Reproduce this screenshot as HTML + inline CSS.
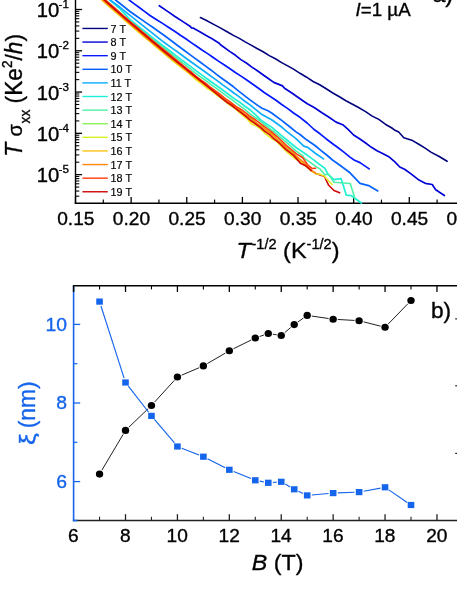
<!DOCTYPE html>
<html>
<head>
<meta charset="utf-8">
<title>Chart</title>
<style>
html, body { margin: 0; padding: 0; background: #ffffff; }
body { width: 457px; height: 591px; overflow: hidden; font-family: 'Liberation Sans', sans-serif; }
svg { display: block; }
svg text { font-family: "Liberation Sans", sans-serif; stroke-width: 0.35px; stroke-linejoin: round; }
</style>
</head>
<body>
<svg width="457" height="591" viewBox="0 0 457 591">
<rect x="0" y="0" width="457" height="591" fill="#ffffff"/>
<g id="top" opacity="0.999">
<line x1="75.50" y1="-2.00" x2="75.50" y2="203.85" stroke="#000" stroke-width="1.4" />
<line x1="74.80" y1="203.20" x2="459.00" y2="203.20" stroke="#000" stroke-width="1.5" />
<line x1="75.50" y1="203.20" x2="75.50" y2="196.90" stroke="#000" stroke-width="1.3" />
<line x1="103.31" y1="203.20" x2="103.31" y2="199.60" stroke="#000" stroke-width="1.2" />
<line x1="131.13" y1="203.20" x2="131.13" y2="196.90" stroke="#000" stroke-width="1.3" />
<line x1="158.94" y1="203.20" x2="158.94" y2="199.60" stroke="#000" stroke-width="1.2" />
<line x1="186.76" y1="203.20" x2="186.76" y2="196.90" stroke="#000" stroke-width="1.3" />
<line x1="214.58" y1="203.20" x2="214.58" y2="199.60" stroke="#000" stroke-width="1.2" />
<line x1="242.39" y1="203.20" x2="242.39" y2="196.90" stroke="#000" stroke-width="1.3" />
<line x1="270.21" y1="203.20" x2="270.21" y2="199.60" stroke="#000" stroke-width="1.2" />
<line x1="298.02" y1="203.20" x2="298.02" y2="196.90" stroke="#000" stroke-width="1.3" />
<line x1="325.84" y1="203.20" x2="325.84" y2="199.60" stroke="#000" stroke-width="1.2" />
<line x1="353.65" y1="203.20" x2="353.65" y2="196.90" stroke="#000" stroke-width="1.3" />
<line x1="381.47" y1="203.20" x2="381.47" y2="199.60" stroke="#000" stroke-width="1.2" />
<line x1="409.28" y1="203.20" x2="409.28" y2="196.90" stroke="#000" stroke-width="1.3" />
<line x1="437.10" y1="203.20" x2="437.10" y2="199.60" stroke="#000" stroke-width="1.2" />
<line x1="75.50" y1="9.50" x2="82.10" y2="9.50" stroke="#000" stroke-width="1.3" />
<line x1="75.50" y1="-2.93" x2="79.30" y2="-2.93" stroke="#000" stroke-width="1.1" />
<line x1="75.50" y1="50.78" x2="82.10" y2="50.78" stroke="#000" stroke-width="1.3" />
<line x1="75.50" y1="38.35" x2="79.30" y2="38.35" stroke="#000" stroke-width="1.1" />
<line x1="75.50" y1="31.08" x2="79.30" y2="31.08" stroke="#000" stroke-width="1.1" />
<line x1="75.50" y1="25.93" x2="79.30" y2="25.93" stroke="#000" stroke-width="1.1" />
<line x1="75.50" y1="21.93" x2="79.30" y2="21.93" stroke="#000" stroke-width="1.1" />
<line x1="75.50" y1="18.66" x2="79.30" y2="18.66" stroke="#000" stroke-width="1.1" />
<line x1="75.50" y1="15.89" x2="79.30" y2="15.89" stroke="#000" stroke-width="1.1" />
<line x1="75.50" y1="13.50" x2="79.30" y2="13.50" stroke="#000" stroke-width="1.1" />
<line x1="75.50" y1="11.39" x2="79.30" y2="11.39" stroke="#000" stroke-width="1.1" />
<line x1="75.50" y1="92.06" x2="82.10" y2="92.06" stroke="#000" stroke-width="1.3" />
<line x1="75.50" y1="79.63" x2="79.30" y2="79.63" stroke="#000" stroke-width="1.1" />
<line x1="75.50" y1="72.36" x2="79.30" y2="72.36" stroke="#000" stroke-width="1.1" />
<line x1="75.50" y1="67.21" x2="79.30" y2="67.21" stroke="#000" stroke-width="1.1" />
<line x1="75.50" y1="63.21" x2="79.30" y2="63.21" stroke="#000" stroke-width="1.1" />
<line x1="75.50" y1="59.94" x2="79.30" y2="59.94" stroke="#000" stroke-width="1.1" />
<line x1="75.50" y1="57.17" x2="79.30" y2="57.17" stroke="#000" stroke-width="1.1" />
<line x1="75.50" y1="54.78" x2="79.30" y2="54.78" stroke="#000" stroke-width="1.1" />
<line x1="75.50" y1="52.67" x2="79.30" y2="52.67" stroke="#000" stroke-width="1.1" />
<line x1="75.50" y1="133.34" x2="82.10" y2="133.34" stroke="#000" stroke-width="1.3" />
<line x1="75.50" y1="120.91" x2="79.30" y2="120.91" stroke="#000" stroke-width="1.1" />
<line x1="75.50" y1="113.64" x2="79.30" y2="113.64" stroke="#000" stroke-width="1.1" />
<line x1="75.50" y1="108.49" x2="79.30" y2="108.49" stroke="#000" stroke-width="1.1" />
<line x1="75.50" y1="104.49" x2="79.30" y2="104.49" stroke="#000" stroke-width="1.1" />
<line x1="75.50" y1="101.22" x2="79.30" y2="101.22" stroke="#000" stroke-width="1.1" />
<line x1="75.50" y1="98.45" x2="79.30" y2="98.45" stroke="#000" stroke-width="1.1" />
<line x1="75.50" y1="96.06" x2="79.30" y2="96.06" stroke="#000" stroke-width="1.1" />
<line x1="75.50" y1="93.95" x2="79.30" y2="93.95" stroke="#000" stroke-width="1.1" />
<line x1="75.50" y1="174.62" x2="82.10" y2="174.62" stroke="#000" stroke-width="1.3" />
<line x1="75.50" y1="162.19" x2="79.30" y2="162.19" stroke="#000" stroke-width="1.1" />
<line x1="75.50" y1="154.92" x2="79.30" y2="154.92" stroke="#000" stroke-width="1.1" />
<line x1="75.50" y1="149.77" x2="79.30" y2="149.77" stroke="#000" stroke-width="1.1" />
<line x1="75.50" y1="145.77" x2="79.30" y2="145.77" stroke="#000" stroke-width="1.1" />
<line x1="75.50" y1="142.50" x2="79.30" y2="142.50" stroke="#000" stroke-width="1.1" />
<line x1="75.50" y1="139.73" x2="79.30" y2="139.73" stroke="#000" stroke-width="1.1" />
<line x1="75.50" y1="137.34" x2="79.30" y2="137.34" stroke="#000" stroke-width="1.1" />
<line x1="75.50" y1="135.23" x2="79.30" y2="135.23" stroke="#000" stroke-width="1.1" />
<line x1="75.50" y1="196.20" x2="79.30" y2="196.20" stroke="#000" stroke-width="1.1" />
<line x1="75.50" y1="191.05" x2="79.30" y2="191.05" stroke="#000" stroke-width="1.1" />
<line x1="75.50" y1="187.05" x2="79.30" y2="187.05" stroke="#000" stroke-width="1.1" />
<line x1="75.50" y1="183.78" x2="79.30" y2="183.78" stroke="#000" stroke-width="1.1" />
<line x1="75.50" y1="181.01" x2="79.30" y2="181.01" stroke="#000" stroke-width="1.1" />
<line x1="75.50" y1="178.62" x2="79.30" y2="178.62" stroke="#000" stroke-width="1.1" />
<line x1="75.50" y1="176.51" x2="79.30" y2="176.51" stroke="#000" stroke-width="1.1" />
<g id="curves">
<polyline points="200.4,17.5 206.0,20.2 213.2,24.1 220.3,27.9 227.5,32.0 233.4,35.4 239.3,38.4 245.2,41.9 251.1,45.1 257.0,48.5 263.1,51.7 269.3,55.6 275.4,58.8 281.6,62.6 287.7,65.9 293.9,69.4 300.0,73.3 306.6,77.2 313.1,81.5 319.7,84.8 326.2,88.8 332.8,93.0 339.4,96.8 345.9,100.8 352.5,104.2 359.0,107.8 365.6,111.6 372.2,116.1 378.8,119.4 385.3,124.2 391.9,128.0 395.0,130.3 398.7,132.0 403.8,137.7 412.6,140.6 418.8,144.3 425.1,148.1 431.3,152.4 439.2,156.5 447.1,161.3" fill="none" stroke="#000080" stroke-width="1.6" stroke-linejoin="round" stroke-linecap="round" />
<polyline points="159.3,5.7 167.2,11.1 175.0,16.5 182.5,21.4 190.0,26.2 191.5,27.8 193.5,28.2 199.8,31.8 206.2,35.6 212.5,39.1 218.8,42.9 220.5,44.8 230.0,51.6 235.5,55.3 240.9,59.6 246.4,63.0 251.9,67.1 257.4,70.8 262.9,74.7 268.3,78.5 273.8,82.4 282.5,85.9 284.5,88.2 292.2,93.2 300.0,98.7 307.3,103.7 314.6,107.7 321.9,112.7 329.0,117.2 336.1,122.1 342.7,124.7 348.1,129.4 353.6,135.0 359.5,138.7 365.3,142.8 371.1,147.1 377.0,150.7 383.1,153.8 389.3,157.1 394.6,161.7 399.8,167.0 405.0,169.5 412.0,174.6 419.0,180.1 425.2,183.3 432.2,184.5 435.7,189.8 444.4,195.5" fill="none" stroke="#0202d6" stroke-width="1.7" stroke-linejoin="round" stroke-linecap="round" />
<polyline points="129.1,0.0 134.3,3.9 139.6,7.7 144.8,11.6 150.0,15.5 156.2,19.5 162.5,23.4 168.8,27.5 175.0,31.5 180.4,35.3 185.8,38.8 191.2,42.6 196.6,46.3 202.0,50.0 207.6,53.6 213.2,57.5 218.8,61.4 224.4,65.0 230.0,68.8 235.7,72.8 241.4,76.4 247.1,80.3 252.8,84.2 258.5,88.3 264.2,92.5 269.9,96.2 275.6,100.0 281.7,104.5 287.8,108.6 293.9,113.2 300.0,117.3 307.1,123.0 314.1,129.5 320.0,133.8 326.0,138.7 331.9,143.2 337.8,147.5 343.9,152.2 350.0,157.1 354.1,160.0 360.0,162.6 369.2,168.9" fill="none" stroke="#0418ff" stroke-width="1.7" stroke-linejoin="round" stroke-linecap="round" />
<polyline points="115.5,0.0 120.0,3.5 130.0,11.5 135.7,15.5 141.3,19.4 147.0,23.4 152.7,27.3 158.3,31.3 164.0,35.2 170.7,40.3 177.3,45.3 184.0,50.3 189.3,54.1 194.7,58.1 200.0,62.0 205.6,66.1 211.2,70.2 216.8,74.6 222.4,78.7 228.0,82.7 233.5,86.8 239.0,91.4 244.5,95.6 250.0,99.9 258.0,105.6 262.0,108.2 268.0,110.8 272.0,113.2 282.0,120.6 290.0,127.0 296.0,131.9 300.0,134.5 306.6,139.8 315.0,145.5 320.8,150.3 326.7,155.0 332.5,160.0 341.3,166.3 350.0,172.8 355.0,178.2 360.0,183.4 368.6,185.6 377.8,190.9" fill="none" stroke="#0462ff" stroke-width="1.7" stroke-linejoin="round" stroke-linecap="round" />
<polyline points="109.7,0.0 114.8,4.4 120.0,8.8 125.0,14.2 130.0,19.5 135.3,23.8 140.7,28.1 146.0,32.5 152.0,37.1 158.0,41.8 164.0,46.5 170.0,51.0 176.0,55.6 182.0,60.1 188.0,64.6 194.0,69.1 200.0,73.6 205.6,77.7 211.2,81.7 216.8,85.8 222.4,89.8 228.0,94.0 233.5,98.1 239.0,101.7 244.5,106.0 250.0,109.8 256.0,115.2 262.0,121.0 272.0,127.4 276.0,130.8 281.0,135.1 286.0,139.2 296.0,147.5 303.1,152.2 308.5,156.1 314.0,160.1 319.4,164.4 324.8,168.2 328.1,174.4 334.0,179.6 341.1,178.7 343.7,186.7 346.3,195.2 351.5,195.7 361.4,203.0" fill="none" stroke="#1ef0d6" stroke-width="1.7" stroke-linejoin="round" stroke-linecap="round" />
<polyline points="110.2,0.0 120.0,7.3 130.0,15.4 135.7,19.9 141.3,24.4 147.0,28.9 152.7,33.3 158.3,37.8 164.0,42.3 170.0,46.6 176.0,50.9 182.0,55.3 188.0,59.7 194.0,64.0 200.0,68.3 205.6,72.3 211.2,76.4 216.8,80.4 222.4,84.6 228.0,88.6 233.5,92.8 239.0,96.6 244.5,101.0 250.0,104.9 258.0,111.4 262.0,114.6 267.0,117.2 272.0,120.0 282.0,127.3 286.0,130.8 296.0,138.6 303.8,146.1 307.8,147.4 315.6,153.5 323.5,158.9" fill="none" stroke="#0cacff" stroke-width="1.7" stroke-linejoin="round" stroke-linecap="round" />
<polyline points="98.0,-6.8 103.6,-1.6 109.6,3.6 113.8,7.3 118.0,11.0 121.9,14.3 126.0,17.9 130.8,22.1 136.1,26.3 140.5,29.8 146.6,34.7 152.5,39.4 158.2,43.9 164.1,48.3 170.1,53.1 175.9,57.6 180.7,61.3 185.5,65.1 189.3,68.2 195.2,72.9 200.8,77.1 206.6,81.2 212.1,85.3 216.1,88.2 221.2,91.9 226.1,95.6 230.8,98.9 235.7,102.7 239.9,105.8 244.5,109.2 250.0,113.9 254.7,117.2 261.0,121.5 264.9,125.0 270.9,129.4 274.9,132.5 281.0,137.9 286.0,141.9 295.5,150.6 302.9,155.8 303.8,157.9 311.3,163.2 316.3,166.9 320.0,168.9 324.8,174.8 328.6,174.3 334.0,182.2 350.2,183.5 354.4,196.8 354.6,198.6" fill="none" stroke="#4cf2a6" stroke-width="1.6" stroke-linejoin="round" stroke-linecap="round" />
<polyline points="98.0,-6.2 103.6,-0.8 109.9,4.7 114.2,8.5 119.7,13.2 125.2,18.1 131.1,23.1 135.2,26.8 139.8,30.5 145.7,35.6 149.7,38.9 155.2,43.4 160.6,48.0 165.1,51.7 169.2,55.4 173.9,59.2 178.8,62.9 184.9,67.9 188.7,70.9 194.1,75.1 197.9,78.6 202.9,82.1 207.8,85.9 213.7,90.7 217.5,93.9 221.3,96.4 224.9,99.6 228.7,102.3 232.5,105.1 238.0,109.4 242.9,113.0 247.7,116.7 251.5,119.3 255.7,122.8 262.0,126.3 265.9,130.0 271.2,133.0 276.8,139.4 281.5,142.9 286.0,147.0 291.0,151.0 296.0,154.5" fill="none" stroke="#8ef05c" stroke-width="1.5" stroke-linejoin="round" stroke-linecap="round" />
<polyline points="311.3,170.6 316.0,173.5 324.4,176.5 328.7,185.3 334.0,190.5 339.7,192.8" fill="none" stroke="#d00606" stroke-width="1.6" stroke-linejoin="round" stroke-linecap="round" />
<polyline points="98.0,-3.5 101.5,-0.2 105.5,3.5 109.1,6.6 114.6,11.5 121.1,17.0 125.6,21.1 130.0,24.8 134.1,28.5 140.3,33.7 144.4,37.2 149.5,41.2 154.3,45.4 158.1,48.6 162.7,52.5 168.9,57.7 173.7,61.7 180.1,66.7 186.5,71.5 190.4,74.8 196.7,80.4 202.4,84.4 207.4,88.7 211.2,90.7 214.8,93.7 220.8,98.2 225.5,101.6 229.6,105.2 234.1,107.8 238.6,112.0 243.0,115.6 247.5,119.2 251.2,123.9 257.1,126.4 261.0,129.5 265.6,133.9 271.9,138.8 276.3,141.2 287.6,152.6 295.0,158.6 302.5,163.4 311.3,170.9 315.6,173.7 320.0,174.3 324.1,176.1 332.0,184.5" fill="none" stroke="#e6ea1e" stroke-width="1.5" stroke-linejoin="round" stroke-linecap="round" />
<polyline points="98.0,-4.0 102.9,0.6 107.8,5.0 113.3,9.7 118.7,14.4 123.1,18.4 127.0,21.9 131.4,25.8 137.8,31.0 144.0,36.4 149.5,40.8 154.3,45.1 158.7,48.7 163.2,52.4 169.0,57.1 173.8,61.0 180.1,65.9 183.8,69.1 189.8,73.8 194.8,77.4 198.8,80.6 203.7,84.1 209.3,88.7 212.8,91.4 217.8,95.1 222.7,98.6 227.6,102.0 232.6,105.4 236.5,108.8 241.2,112.7 246.4,117.7 251.1,121.6 256.1,124.7 261.9,128.4 267.9,132.0 271.7,134.8 275.6,138.2 280.9,144.4 286.0,148.4 290.0,152.3 298.1,158.6 302.5,162.4 311.3,170.6" fill="none" stroke="#ffc414" stroke-width="1.5" stroke-linejoin="round" stroke-linecap="round" />
<polyline points="98.0,-4.7 103.9,0.9 108.3,4.8 113.9,9.7 117.7,12.9 122.4,17.1 126.6,20.8 131.1,24.7 137.4,30.0 143.9,35.4 149.9,40.6 153.8,43.9 159.0,48.3 163.1,51.7 169.3,56.6 173.7,59.9 180.0,65.1 186.5,70.1 192.4,75.2 198.7,79.6 203.3,83.1 209.1,87.6 215.5,92.4 221.3,97.1 225.5,100.0 231.9,104.7 236.4,107.8 242.3,112.0 247.6,116.3 252.8,119.6 258.3,124.6 262.7,127.1 268.9,132.0 273.3,135.1 279.0,141.0 286.0,147.6 290.0,151.2 298.1,157.5 302.5,161.4 311.5,170.4 315.6,173.4" fill="none" stroke="#ff8608" stroke-width="1.5" stroke-linejoin="round" stroke-linecap="round" />
<polyline points="98.0,-7.0 103.5,-1.9 107.6,1.8 112.6,6.1 117.4,10.4 121.7,14.2 126.2,18.1 132.0,23.2 138.4,28.4 142.6,32.0 147.8,36.3 153.3,41.1 159.3,46.0 163.7,49.6 170.2,54.9 175.8,59.6 181.1,63.9 187.1,68.8 191.5,72.2 196.4,76.5 200.4,79.6 205.8,83.4 209.9,86.8 214.7,90.3 219.6,93.9 225.3,98.5 230.4,102.1 236.3,106.6 241.4,109.7 245.4,112.5 249.1,115.6 254.2,118.9 260.5,123.7 266.4,128.0 271.9,132.1 278.4,137.7 286.0,145.1 296.4,153.9 302.5,157.5 307.8,165.0 312.1,168.4 315.6,168.2" fill="none" stroke="#ff3a08" stroke-width="1.5" stroke-linejoin="round" stroke-linecap="round" />
<polyline points="98.0,-5.8 103.9,-0.3 108.9,4.1 115.4,9.8 119.3,13.2 123.6,17.0 127.9,20.7 132.4,24.6 137.6,28.9 141.3,32.1 146.4,36.4 152.1,41.3 156.9,45.1 162.6,50.1 167.2,53.9 171.6,57.5 177.6,62.4 184.0,67.3 189.1,71.7 195.0,76.3 199.0,79.6 202.8,82.7 206.3,85.5 211.2,89.3 216.2,93.5 220.8,97.4 226.9,102.4 231.1,105.0 235.7,108.6 241.4,112.9 245.3,115.8 250.0,119.8 254.8,123.3 260.4,127.4 264.5,131.2 270.3,135.2 274.0,138.9 279.4,143.2 286.0,149.6 293.8,155.6 300.8,163.6 305.1,165.4 311.3,170.6" fill="none" stroke="#d00606" stroke-width="1.6" stroke-linejoin="round" stroke-linecap="round" />
</g>
<text transform="translate(36.8,17.10) scale(1.04,1)" font-size="19.5" fill="#000" stroke="#000">10<tspan font-size="11.2" dy="-8.9" dx="-0.7">-1</tspan></text>
<text transform="translate(36.8,58.38) scale(1.04,1)" font-size="19.5" fill="#000" stroke="#000">10<tspan font-size="11.2" dy="-8.9" dx="-0.7">-2</tspan></text>
<text transform="translate(36.8,99.66) scale(1.04,1)" font-size="19.5" fill="#000" stroke="#000">10<tspan font-size="11.2" dy="-8.9" dx="-0.7">-3</tspan></text>
<text transform="translate(36.8,140.94) scale(1.04,1)" font-size="19.5" fill="#000" stroke="#000">10<tspan font-size="11.2" dy="-8.9" dx="-0.7">-4</tspan></text>
<text transform="translate(36.8,182.22) scale(1.04,1)" font-size="19.5" fill="#000" stroke="#000">10<tspan font-size="11.2" dy="-8.9" dx="-0.7">-5</tspan></text>
<text transform="translate(75.80,224.80) scale(1.04,1)" font-size="18.4" fill="#000" stroke="#000" text-anchor="middle"  style="">0.15</text>
<text transform="translate(131.43,224.80) scale(1.04,1)" font-size="18.4" fill="#000" stroke="#000" text-anchor="middle"  style="">0.20</text>
<text transform="translate(187.06,224.80) scale(1.04,1)" font-size="18.4" fill="#000" stroke="#000" text-anchor="middle"  style="">0.25</text>
<text transform="translate(242.69,224.80) scale(1.04,1)" font-size="18.4" fill="#000" stroke="#000" text-anchor="middle"  style="">0.30</text>
<text transform="translate(298.32,224.80) scale(1.04,1)" font-size="18.4" fill="#000" stroke="#000" text-anchor="middle"  style="">0.35</text>
<text transform="translate(353.95,224.80) scale(1.04,1)" font-size="18.4" fill="#000" stroke="#000" text-anchor="middle"  style="">0.40</text>
<text transform="translate(409.58,224.80) scale(1.04,1)" font-size="18.4" fill="#000" stroke="#000" text-anchor="middle"  style="">0.45</text>
<text transform="translate(465.21,224.80) scale(1.04,1)" font-size="18.4" fill="#000" stroke="#000" text-anchor="middle"  style="">0.50</text>
<line x1="82.40" y1="28.45" x2="107.80" y2="28.45" stroke="#000080" stroke-width="1.4" />
<text transform="translate(110.60,32.60) scale(1.02,1)" font-size="10.6" fill="#000" stroke="#000" text-anchor="start"  style="stroke-width:0.18px">7 T</text>
<line x1="82.40" y1="42.06" x2="107.80" y2="42.06" stroke="#0202d6" stroke-width="1.4" />
<text transform="translate(110.60,46.21) scale(1.02,1)" font-size="10.6" fill="#000" stroke="#000" text-anchor="start"  style="stroke-width:0.18px">8 T</text>
<line x1="82.40" y1="55.67" x2="107.80" y2="55.67" stroke="#0418ff" stroke-width="1.4" />
<text transform="translate(110.60,59.82) scale(1.02,1)" font-size="10.6" fill="#000" stroke="#000" text-anchor="start"  style="stroke-width:0.18px">9 T</text>
<line x1="82.40" y1="69.28" x2="107.80" y2="69.28" stroke="#0462ff" stroke-width="1.4" />
<text transform="translate(110.60,73.43) scale(1.02,1)" font-size="10.6" fill="#000" stroke="#000" text-anchor="start"  style="stroke-width:0.18px">10 T</text>
<line x1="82.40" y1="82.89" x2="107.80" y2="82.89" stroke="#0cacff" stroke-width="1.4" />
<text transform="translate(110.60,87.04) scale(1.02,1)" font-size="10.6" fill="#000" stroke="#000" text-anchor="start"  style="stroke-width:0.18px">11 T</text>
<line x1="82.40" y1="96.50" x2="107.80" y2="96.50" stroke="#1ef0d6" stroke-width="1.4" />
<text transform="translate(110.60,100.65) scale(1.02,1)" font-size="10.6" fill="#000" stroke="#000" text-anchor="start"  style="stroke-width:0.18px">12 T</text>
<line x1="82.40" y1="110.11" x2="107.80" y2="110.11" stroke="#4cf2a6" stroke-width="1.4" />
<text transform="translate(110.60,114.26) scale(1.02,1)" font-size="10.6" fill="#000" stroke="#000" text-anchor="start"  style="stroke-width:0.18px">13 T</text>
<line x1="82.40" y1="123.72" x2="107.80" y2="123.72" stroke="#8ef05c" stroke-width="1.4" />
<text transform="translate(110.60,127.87) scale(1.02,1)" font-size="10.6" fill="#000" stroke="#000" text-anchor="start"  style="stroke-width:0.18px">14 T</text>
<line x1="82.40" y1="137.33" x2="107.80" y2="137.33" stroke="#d6f01e" stroke-width="1.4" />
<text transform="translate(110.60,141.48) scale(1.02,1)" font-size="10.6" fill="#000" stroke="#000" text-anchor="start"  style="stroke-width:0.18px">15 T</text>
<line x1="82.40" y1="150.94" x2="107.80" y2="150.94" stroke="#ffc414" stroke-width="1.4" />
<text transform="translate(110.60,155.09) scale(1.02,1)" font-size="10.6" fill="#000" stroke="#000" text-anchor="start"  style="stroke-width:0.18px">16 T</text>
<line x1="82.40" y1="164.55" x2="107.80" y2="164.55" stroke="#ff8608" stroke-width="1.4" />
<text transform="translate(110.60,168.70) scale(1.02,1)" font-size="10.6" fill="#000" stroke="#000" text-anchor="start"  style="stroke-width:0.18px">17 T</text>
<line x1="82.40" y1="178.16" x2="107.80" y2="178.16" stroke="#ff3a08" stroke-width="1.4" />
<text transform="translate(110.60,182.31) scale(1.02,1)" font-size="10.6" fill="#000" stroke="#000" text-anchor="start"  style="stroke-width:0.18px">18 T</text>
<line x1="82.40" y1="191.77" x2="107.80" y2="191.77" stroke="#d00606" stroke-width="1.4" />
<text transform="translate(110.60,195.92) scale(1.02,1)" font-size="10.6" fill="#000" stroke="#000" text-anchor="start"  style="stroke-width:0.18px">19 T</text>
<text transform="translate(355.6,15.9) scale(1.008,1)" font-size="18.6" fill="#000" stroke="#000"><tspan font-style="italic">I</tspan>=1 µA</text>
<text transform="translate(432.40,1.50) scale(1.04,1)" font-size="22.4" fill="#000" stroke="#000" text-anchor="start"  style="">a)</text>
<text transform="translate(236.6,258.3) scale(1.04,1)" font-size="22.6" fill="#000" stroke="#000"><tspan font-style="italic">T</tspan><tspan font-size="14" dy="-8.9" dx="0.5">-1/2</tspan><tspan dy="8.9"> (K</tspan><tspan font-size="14" dy="-8.9">-1/2</tspan><tspan dy="8.9">)</tspan></text>
<text transform="translate(22.2,156.8) scale(1.05,1) rotate(-90)" font-size="22.7" fill="#000" stroke="#000"><tspan font-style="italic">T</tspan> <tspan font-size="20">σ</tspan><tspan font-size="13.8" dy="7.6" dx="0.8">xx</tspan><tspan dy="-7.6"> (Ke</tspan><tspan font-size="13.6" dy="-9.8">2</tspan><tspan dy="9.8">/</tspan><tspan font-style="italic">h</tspan>)</text>
</g>
<g id="bottom" opacity="0.999">
<line x1="101.90" y1="470.14" x2="123.16" y2="434.36" stroke="#222" stroke-width="1.0" />
<line x1="128.83" y1="427.22" x2="148.15" y2="408.68" stroke="#222" stroke-width="1.0" />
<line x1="154.56" y1="402.10" x2="174.32" y2="380.40" stroke="#222" stroke-width="1.0" />
<line x1="181.65" y1="375.19" x2="199.15" y2="367.71" stroke="#222" stroke-width="1.0" />
<line x1="207.35" y1="363.59" x2="225.35" y2="353.11" stroke="#222" stroke-width="1.0" />
<line x1="233.46" y1="348.77" x2="251.16" y2="340.03" stroke="#222" stroke-width="1.0" />
<line x1="259.63" y1="336.49" x2="263.92" y2="335.01" stroke="#222" stroke-width="1.0" />
<line x1="272.81" y1="334.20" x2="276.69" y2="334.80" stroke="#222" stroke-width="1.0" />
<line x1="284.76" y1="332.54" x2="290.70" y2="327.56" stroke="#222" stroke-width="1.0" />
<line x1="297.97" y1="321.94" x2="303.44" y2="318.06" stroke="#222" stroke-width="1.0" />
<line x1="311.75" y1="316.07" x2="328.60" y2="318.53" stroke="#222" stroke-width="1.0" />
<line x1="337.74" y1="319.47" x2="354.51" y2="320.43" stroke="#222" stroke-width="1.0" />
<line x1="363.56" y1="321.83" x2="380.60" y2="326.17" stroke="#222" stroke-width="1.0" />
<line x1="388.26" y1="324.00" x2="407.81" y2="303.80" stroke="#222" stroke-width="1.0" />
<ellipse cx="99.55" cy="474.10" rx="3.7" ry="3.55" fill="#000"/>
<ellipse cx="125.51" cy="430.40" rx="3.7" ry="3.55" fill="#000"/>
<ellipse cx="151.46" cy="405.50" rx="3.7" ry="3.55" fill="#000"/>
<ellipse cx="177.42" cy="377.00" rx="3.7" ry="3.55" fill="#000"/>
<ellipse cx="203.37" cy="365.90" rx="3.7" ry="3.55" fill="#000"/>
<ellipse cx="229.33" cy="350.80" rx="3.7" ry="3.55" fill="#000"/>
<ellipse cx="255.28" cy="338.00" rx="3.7" ry="3.55" fill="#000"/>
<ellipse cx="268.26" cy="333.50" rx="3.7" ry="3.55" fill="#000"/>
<ellipse cx="281.24" cy="335.50" rx="3.7" ry="3.55" fill="#000"/>
<ellipse cx="294.22" cy="324.60" rx="3.7" ry="3.55" fill="#000"/>
<ellipse cx="307.19" cy="315.40" rx="3.7" ry="3.55" fill="#000"/>
<ellipse cx="333.15" cy="319.20" rx="3.7" ry="3.55" fill="#000"/>
<ellipse cx="359.11" cy="320.70" rx="3.7" ry="3.55" fill="#000"/>
<ellipse cx="385.06" cy="327.30" rx="3.7" ry="3.55" fill="#000"/>
<ellipse cx="411.01" cy="300.50" rx="3.7" ry="3.55" fill="#000"/>
<line x1="100.96" y1="305.98" x2="124.10" y2="378.12" stroke="#1565ec" stroke-width="1.15" />
<line x1="128.33" y1="386.13" x2="148.64" y2="412.27" stroke="#1565ec" stroke-width="1.15" />
<line x1="154.44" y1="419.41" x2="174.44" y2="442.99" stroke="#1565ec" stroke-width="1.15" />
<line x1="181.70" y1="448.18" x2="199.09" y2="455.02" stroke="#1565ec" stroke-width="1.15" />
<line x1="207.48" y1="458.77" x2="225.22" y2="467.73" stroke="#1565ec" stroke-width="1.15" />
<line x1="233.59" y1="471.53" x2="251.02" y2="478.57" stroke="#1565ec" stroke-width="1.15" />
<line x1="259.80" y1="481.17" x2="263.75" y2="481.93" stroke="#1565ec" stroke-width="1.15" />
<line x1="272.85" y1="482.45" x2="276.65" y2="482.15" stroke="#1565ec" stroke-width="1.15" />
<line x1="285.22" y1="484.10" x2="290.23" y2="487.00" stroke="#1565ec" stroke-width="1.15" />
<line x1="298.38" y1="491.26" x2="303.03" y2="493.44" stroke="#1565ec" stroke-width="1.15" />
<line x1="311.78" y1="494.99" x2="328.57" y2="493.51" stroke="#1565ec" stroke-width="1.15" />
<line x1="337.75" y1="492.92" x2="354.51" y2="492.28" stroke="#1565ec" stroke-width="1.15" />
<line x1="363.63" y1="491.26" x2="380.54" y2="488.14" stroke="#1565ec" stroke-width="1.15" />
<line x1="388.86" y1="489.89" x2="407.21" y2="502.41" stroke="#1565ec" stroke-width="1.15" />
<rect x="96.25" y="298.50" width="6.6" height="6.2" fill="#1565ec"/>
<rect x="122.21" y="379.40" width="6.6" height="6.2" fill="#1565ec"/>
<rect x="148.16" y="412.80" width="6.6" height="6.2" fill="#1565ec"/>
<rect x="174.12" y="443.40" width="6.6" height="6.2" fill="#1565ec"/>
<rect x="200.07" y="453.60" width="6.6" height="6.2" fill="#1565ec"/>
<rect x="226.03" y="466.70" width="6.6" height="6.2" fill="#1565ec"/>
<rect x="251.98" y="477.20" width="6.6" height="6.2" fill="#1565ec"/>
<rect x="264.96" y="479.70" width="6.6" height="6.2" fill="#1565ec"/>
<rect x="277.94" y="478.70" width="6.6" height="6.2" fill="#1565ec"/>
<rect x="290.92" y="486.20" width="6.6" height="6.2" fill="#1565ec"/>
<rect x="303.89" y="492.30" width="6.6" height="6.2" fill="#1565ec"/>
<rect x="329.85" y="490.00" width="6.6" height="6.2" fill="#1565ec"/>
<rect x="355.81" y="489.00" width="6.6" height="6.2" fill="#1565ec"/>
<rect x="381.76" y="484.20" width="6.6" height="6.2" fill="#1565ec"/>
<rect x="407.71" y="501.90" width="6.6" height="6.2" fill="#1565ec"/>
<line x1="72.85" y1="285.70" x2="459.00" y2="285.70" stroke="#000" stroke-width="1.5" />
<line x1="72.85" y1="520.50" x2="459.00" y2="520.50" stroke="#222" stroke-width="1.5" />
<line x1="73.60" y1="286.45" x2="73.60" y2="521.25" stroke="#1565ec" stroke-width="1.6" />
<line x1="73.60" y1="285.70" x2="73.60" y2="292.00" stroke="#000" stroke-width="1.5" />
<line x1="99.55" y1="285.70" x2="99.55" y2="289.40" stroke="#000" stroke-width="1.1" />
<line x1="99.55" y1="520.50" x2="99.55" y2="516.80" stroke="#222" stroke-width="1.1" />
<line x1="125.51" y1="285.70" x2="125.51" y2="292.00" stroke="#000" stroke-width="1.3" />
<line x1="125.51" y1="520.50" x2="125.51" y2="514.20" stroke="#222" stroke-width="1.3" />
<line x1="151.46" y1="285.70" x2="151.46" y2="289.40" stroke="#000" stroke-width="1.1" />
<line x1="151.46" y1="520.50" x2="151.46" y2="516.80" stroke="#222" stroke-width="1.1" />
<line x1="177.42" y1="285.70" x2="177.42" y2="292.00" stroke="#000" stroke-width="1.3" />
<line x1="177.42" y1="520.50" x2="177.42" y2="514.20" stroke="#222" stroke-width="1.3" />
<line x1="203.37" y1="285.70" x2="203.37" y2="289.40" stroke="#000" stroke-width="1.1" />
<line x1="203.37" y1="520.50" x2="203.37" y2="516.80" stroke="#222" stroke-width="1.1" />
<line x1="229.33" y1="285.70" x2="229.33" y2="292.00" stroke="#000" stroke-width="1.3" />
<line x1="229.33" y1="520.50" x2="229.33" y2="514.20" stroke="#222" stroke-width="1.3" />
<line x1="255.28" y1="285.70" x2="255.28" y2="289.40" stroke="#000" stroke-width="1.1" />
<line x1="255.28" y1="520.50" x2="255.28" y2="516.80" stroke="#222" stroke-width="1.1" />
<line x1="281.24" y1="285.70" x2="281.24" y2="292.00" stroke="#000" stroke-width="1.3" />
<line x1="281.24" y1="520.50" x2="281.24" y2="514.20" stroke="#222" stroke-width="1.3" />
<line x1="307.19" y1="285.70" x2="307.19" y2="289.40" stroke="#000" stroke-width="1.1" />
<line x1="307.19" y1="520.50" x2="307.19" y2="516.80" stroke="#222" stroke-width="1.1" />
<line x1="333.15" y1="285.70" x2="333.15" y2="292.00" stroke="#000" stroke-width="1.3" />
<line x1="333.15" y1="520.50" x2="333.15" y2="514.20" stroke="#222" stroke-width="1.3" />
<line x1="359.11" y1="285.70" x2="359.11" y2="289.40" stroke="#000" stroke-width="1.1" />
<line x1="359.11" y1="520.50" x2="359.11" y2="516.80" stroke="#222" stroke-width="1.1" />
<line x1="385.06" y1="285.70" x2="385.06" y2="292.00" stroke="#000" stroke-width="1.3" />
<line x1="385.06" y1="520.50" x2="385.06" y2="514.20" stroke="#222" stroke-width="1.3" />
<line x1="411.01" y1="285.70" x2="411.01" y2="289.40" stroke="#000" stroke-width="1.1" />
<line x1="411.01" y1="520.50" x2="411.01" y2="516.80" stroke="#222" stroke-width="1.1" />
<line x1="436.97" y1="285.70" x2="436.97" y2="292.00" stroke="#000" stroke-width="1.3" />
<line x1="436.97" y1="520.50" x2="436.97" y2="514.20" stroke="#222" stroke-width="1.3" />
<line x1="462.92" y1="285.70" x2="462.92" y2="289.40" stroke="#000" stroke-width="1.1" />
<line x1="462.92" y1="520.50" x2="462.92" y2="516.80" stroke="#222" stroke-width="1.1" />
<line x1="73.60" y1="520.50" x2="77.40" y2="520.50" stroke="#1565ec" stroke-width="1.5" />
<line x1="73.60" y1="481.60" x2="80.20" y2="481.60" stroke="#1565ec" stroke-width="1.3" />
<line x1="73.60" y1="442.30" x2="77.40" y2="442.30" stroke="#1565ec" stroke-width="1.2" />
<line x1="73.60" y1="403.00" x2="80.20" y2="403.00" stroke="#1565ec" stroke-width="1.3" />
<line x1="73.60" y1="363.70" x2="77.40" y2="363.70" stroke="#1565ec" stroke-width="1.2" />
<line x1="73.60" y1="324.40" x2="80.20" y2="324.40" stroke="#1565ec" stroke-width="1.3" />
<line x1="455.20" y1="318.90" x2="458.00" y2="318.90" stroke="#222" stroke-width="1.2" />
<line x1="455.20" y1="385.80" x2="458.00" y2="385.80" stroke="#222" stroke-width="1.2" />
<line x1="455.20" y1="453.40" x2="458.00" y2="453.40" stroke="#222" stroke-width="1.2" />
<text transform="translate(66.90,487.70) scale(1.04,1)" font-size="18.6" fill="#1565ec" stroke="#1565ec" text-anchor="end"  style="">6</text>
<text transform="translate(66.90,409.10) scale(1.04,1)" font-size="18.6" fill="#1565ec" stroke="#1565ec" text-anchor="end"  style="">8</text>
<text transform="translate(66.90,330.50) scale(1.04,1)" font-size="18.6" fill="#1565ec" stroke="#1565ec" text-anchor="end"  style="">10</text>
<text transform="translate(73.40,542.45) scale(1.04,1)" font-size="18.4" fill="#000" stroke="#000" text-anchor="middle"  style="">6</text>
<text transform="translate(125.31,542.45) scale(1.04,1)" font-size="18.4" fill="#000" stroke="#000" text-anchor="middle"  style="">8</text>
<text transform="translate(177.22,542.45) scale(1.04,1)" font-size="18.4" fill="#000" stroke="#000" text-anchor="middle"  style="">10</text>
<text transform="translate(229.13,542.45) scale(1.04,1)" font-size="18.4" fill="#000" stroke="#000" text-anchor="middle"  style="">12</text>
<text transform="translate(281.04,542.45) scale(1.04,1)" font-size="18.4" fill="#000" stroke="#000" text-anchor="middle"  style="">14</text>
<text transform="translate(332.95,542.45) scale(1.04,1)" font-size="18.4" fill="#000" stroke="#000" text-anchor="middle"  style="">16</text>
<text transform="translate(384.86,542.45) scale(1.04,1)" font-size="18.4" fill="#000" stroke="#000" text-anchor="middle"  style="">18</text>
<text transform="translate(436.77,542.45) scale(1.04,1)" font-size="18.4" fill="#000" stroke="#000" text-anchor="middle"  style="">20</text>
<text transform="translate(431.00,318.00) scale(1.06,1)" font-size="21.4" fill="#000" stroke="#000" text-anchor="start"  style="">b)</text>
<text transform="translate(251.8,570.2) scale(1.04,1)" font-size="22.4" fill="#000" stroke="#000"><tspan font-style="italic">B</tspan> (T)</text>
<text transform="translate(35.3,445.0) scale(1.05,1) rotate(-90) scale(1.22,1)" font-size="21.5" fill="#1565ec" stroke="#1565ec">ξ</text>
<text transform="translate(35.3,428.3) scale(1.05,1) rotate(-90)" font-size="22.9" fill="#1565ec" stroke="#1565ec">(nm)</text>
</g>
</svg>
</body>
</html>
